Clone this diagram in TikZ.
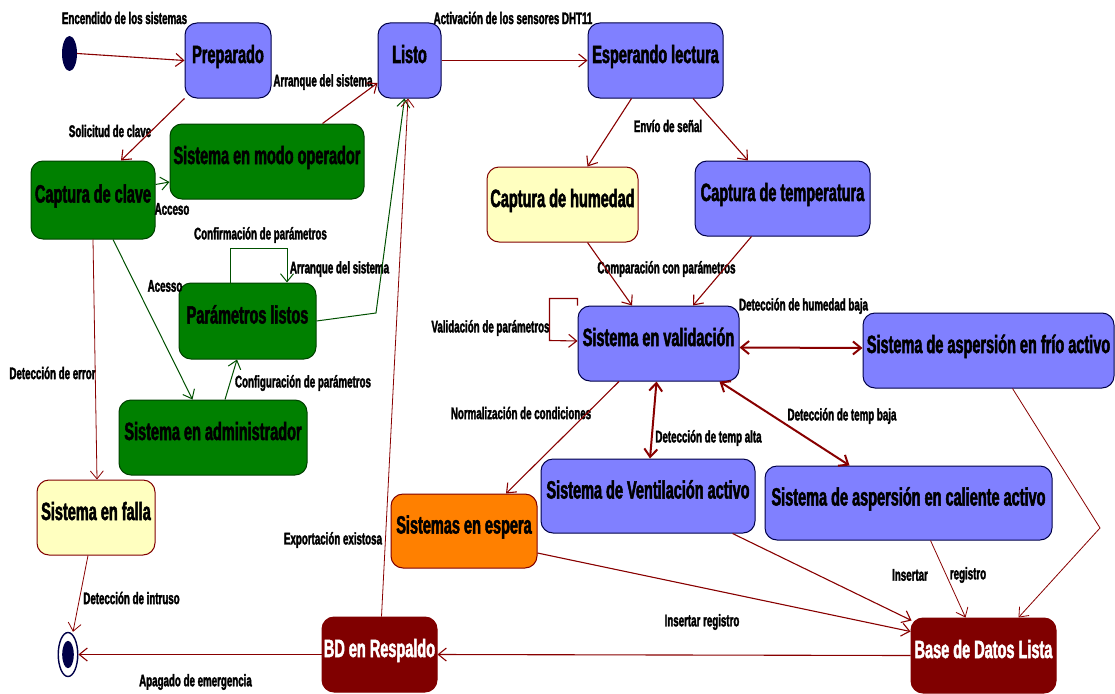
\documentclass[tikz,border=0pt]{standalone}
\usepackage{fontspec}
\setmainfont{Liberation Sans}[FakeStretch=0.58, BoldFeatures={FakeBold=2}]
\usetikzlibrary{arrows.meta,calc,shapes.geometric}
\definecolor{stblue}{HTML}{8080FF}
\definecolor{stnavy}{HTML}{000048}
\definecolor{stgreen}{HTML}{008000}
\definecolor{stgreenline}{HTML}{004000}
\definecolor{styellow}{HTML}{FFFFC0}
\definecolor{storange}{HTML}{FF8000}
\definecolor{stmaroon}{HTML}{800000}
\definecolor{edgered}{HTML}{880000}
\definecolor{edgegreen}{HTML}{005000}

\begin{document}
\begin{tikzpicture}[x=1pt,y=-1pt,
  state/.style={rectangle, rounded corners=12pt, line width=1pt, inner sep=0pt,
    font=\fontsize{25}{28}\selectfont\bfseries, text height=17pt, text depth=12pt},
  bluestate/.style={state, fill=stblue, draw=stnavy},
  greenstate/.style={state, fill=stgreen, draw=stgreenline},
  yellowstate/.style={state, fill=styellow, draw=stmaroon},
  orangestate/.style={state, fill=storange, draw=stmaroon},
  dbstate/.style={state, fill=stmaroon, draw=stmaroon, text=white},
  lbl/.style={font=\fontsize{16.8}{18}\selectfont\bfseries, inner sep=0pt},
  barb/.tip={Straight Barb[length=8pt,width=13pt]},
  redflow/.style={draw=edgered, line width=1.1pt, -barb},
  thinred/.style={draw=edgered, line width=0.8pt, -barb},
  greenflow/.style={draw=edgegreen, line width=1pt, -barb},
  twoway/.style={draw=edgered, line width=2pt, barb-barb},
]
\useasboundingbox (0,0) rectangle (1115,693);

% ---- states ----
\node[ellipse, fill=stnavy, minimum width=15pt, minimum height=35pt, inner sep=0pt] (ini) at (69.5,53.5) {};
\node[ellipse, draw=stnavy, fill=white, line width=1.4pt, minimum width=19.5pt, minimum height=44pt, inner sep=0pt] (fin) at (68,654.5) {};
\fill[stnavy] (fin.center) ellipse [x radius=5.8pt, y radius=13.7pt];

\node[bluestate, minimum width=86pt, minimum height=75pt] (prep) at (228,60.5) {Preparado};
\node[bluestate, minimum width=63pt, minimum height=75pt] (listo) at (409.5,60.5) {Listo};
\node[bluestate, minimum width=135pt, minimum height=75pt] (esper) at (655.5,60.5) {Esperando lectura};
\node[greenstate, minimum width=194pt, minimum height=75pt] (modo) at (267,161.5) {Sistema en modo operador};
\node[greenstate, minimum width=124pt, minimum height=78pt] (clave) at (93,200) {Captura de clave};
\node[yellowstate, minimum width=151pt, minimum height=75pt] (hum) at (562.5,204.5) {Captura de humedad};
\node[bluestate, minimum width=175pt, minimum height=75pt] (temp) at (782.5,198.5) {Captura de temperatura};
\node[greenstate, minimum width=137pt, minimum height=76pt] (params) at (247.5,321) {Parámetros listos};
\node[greenstate, minimum width=188pt, minimum height=75pt] (admin) at (213,437.5) {Sistema en administrador};
\node[yellowstate, minimum width=118pt, minimum height=75pt] (falla) at (96,517.5) {Sistema en falla};
\node[bluestate, minimum width=161pt, minimum height=75pt] (valid) at (658.5,343.5) {Sistema en validación};
\node[bluestate, minimum width=251pt, minimum height=75pt] (frio) at (988.5,350.5) {Sistema de aspersión en frío activo};
\node[bluestate, minimum width=214pt, minimum height=74pt] (vent) at (648,496) {Sistema de Ventilación activo};
\node[bluestate, minimum width=287pt, minimum height=74pt] (cal) at (908.5,503) {Sistema de aspersión en caliente activo};
\node[orangestate, minimum width=146pt, minimum height=74pt] (espera) at (464,531) {Sistemas en espera};
\node[dbstate, minimum width=115pt, minimum height=75pt] (bdr) at (379.5,654.5) {BD en Respaldo};
\node[dbstate, minimum width=145pt, minimum height=75pt] (bdl) at (983.5,655.5) {Base de Datos Lista};

% ---- transition labels ----
\node[lbl] (l-enc) at (124.5,18) {Encendido de los sistemas};
\node[lbl] (l-sol) at (110,131) {Solicitud de clave};
\node[lbl] (l-acc1) at (172,209) {Acceso};
\node[lbl] (l-arr1) at (323,82) {Arranque del sistema};
\node[lbl] (l-conf) at (260.5,235) {Confirmación de parámetros};
\node[lbl] (l-arr2) at (339.5,269) {Arranque del sistema};
\node[lbl] (l-acc2) at (165,286) {Acesso};
\node[lbl] (l-err) at (52.5,373) {Detección de error};
\node[lbl] (l-cfg) at (303,383) {Configuración de parámetros};
\node[lbl] (l-act) at (513,18) {Activación de los sensores DHT11};
\node[lbl] (l-env) at (668,126) {Envío de señal};
\node[lbl] (l-comp) at (666.5,269) {Comparación con parámetros};
\node[lbl] (l-val) at (490.5,328) {Validación de parámetros};
\node[lbl] (l-hum) at (803.5,306) {Detección de humedad baja};
\node[lbl] (l-tb) at (842,416) {Detección de temp baja};
\node[lbl] (l-ta) at (708.5,438) {Detección de temp alta};
\node[lbl] (l-norm) at (521,413) {Normalización de condiciones};
\node[lbl] (l-exp) at (333,540) {Exportación existosa};
\node[lbl] (l-intr) at (131.5,598) {Detección de intruso};
\node[lbl] (l-apag) at (195.5,682) {Apagado de emergencia};
\node[lbl] (l-ins) at (702,622) {Insertar registro};
\node[lbl] (l-ins2) at (910,575) {Insertar};
\node[lbl] (l-reg2) at (968,575) {registro};

% ---- start-up and access ----
\draw[redflow] (ini.east) -- (prep.west);
\draw[redflow] (prep.south west) -- ($(clave.north)+(28,0)$);
\draw[greenflow] ($(clave.north east)+(0,24)$) -- ($(modo.west)+(0,20.5)$);
\draw[redflow] ($(modo.north east)+(-42,0)$) -- ($(listo.west)+(0,22.5)$);
\draw[greenflow] ($(clave.south)+(20,0)$) -- ($(admin.north west)+(74,0)$);
\draw[thinred] (clave.south) -- ($(falla.north)+(1,0)$);
\draw[greenflow] ($(admin.north)+(12,0)$) -- ($(params.south)+(-10.5,0)$);
\draw[greenflow] ($(params.north)+(-17.5,0)$) -- ++(0,-34) -- ++(57,0) -- ($(params.north)+(39.5,0)$);
\coordinate (pbend) at (376,313);
\draw[greenflow] (params.east) -- (pbend) -- ($(listo.south)+(-5,0)$);
\draw[thinred] ($(bdr.north)+(2,0)$) -- ($(listo.south)+(-1.5,0)$);

% ---- sensor reading ----
\draw[redflow] (listo.east) -- (esper.west);
\draw[redflow] ($(esper.south)+(-24,0)$) -- ($(hum.north)+(25,0)$);
\draw[redflow] ($(esper.south)+(37.5,0)$) -- ($(temp.north)+(-34.5,0)$);
\draw[redflow] ($(hum.south)+(25,0)$) -- ($(valid.north)+(-26.5,0)$);
\draw[redflow] ($(temp.south)+(-31,0)$) -- ($(valid.north)+(34.5,0)$);
\draw[redflow] (valid.north west) -- ++(0,-7) -- ++(-28,0) -- ++(0,42) -- ($(valid.west)+(0,-2.5)$);

% ---- actuators ----
\draw[twoway] ($(valid.east)+(0,4)$) -- ($(frio.west)+(0,-2.5)$);
\draw[twoway] ($(valid.south)+(-2,0)$) -- ($(vent.north)+(2,0)$);
\draw[twoway] ($(valid.south east)+(-20,0)$) -- ($(cal.north west)+(85,0)$);
\draw[redflow] ($(valid.south)+(-39.5,0)$) -- ($(espera.north)+(42,0)$);

% ---- data logging ----
\draw[redflow] ($(espera.east)+(0,22)$) -- ($(bdl.west)+(0,-24)$);
\draw[redflow] ($(vent.south east)+(-23,0)$) -- ($(bdl.north west)+(1,3)$);
\draw[thinred] ($(cal.south)+(22,0)$) -- ($(bdl.north)+(-18,0)$);
\coordinate (fbend) at (1100,528);
\draw[thinred] ($(frio.south)+(24,0)$) -- (fbend) -- ($(bdl.north)+(35,0)$);
\draw[redflow] (bdl.west) -- (bdr.east);
\draw[redflow] (bdr.west) -- (fin.east);
\draw[thinred] ($(falla.south)+(-8,0)$) -- ($(fin.north)+(5,0)$);
\end{tikzpicture}
\end{document}
